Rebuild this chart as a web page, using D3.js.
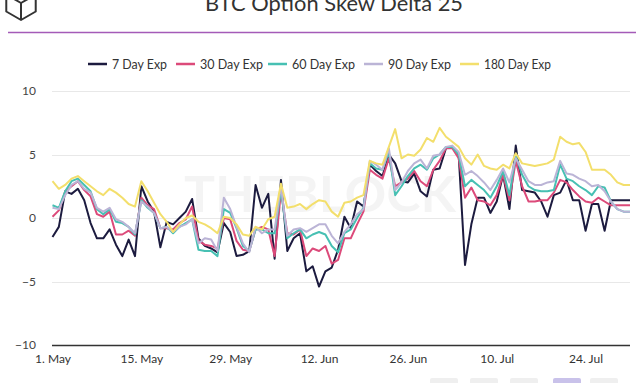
<!DOCTYPE html>
<html>
<head>
<meta charset="utf-8">
<script src="https://cdn.jsdelivr.net/npm/d3@7"></script>
<style>
  html, body { margin: 0; padding: 0; background: #fff; }
  svg { display: block; }
</style>
</head>
<body>
<div id="chart"></div>
<script>
// ---- data ----
const startDate = "2019-05-01";
const seriesNames = ["7 Day Exp", "30 Day Exp", "60 Day Exp", "90 Day Exp", "180 Day Exp"];
const seriesColors = ["#1c1b3f", "#dc4a7a", "#47c0b3", "#bbb4d6", "#f3df6c"];
const tickLabels = ["2019-05-01", "2019-05-15", "2019-05-29", "2019-06-12", "2019-06-26", "2019-07-10", "2019-07-24"];
const yTicks = [-10, -5, 0, 5, 10];

const exp7 = [-1.5,-0.7,2.1,1.9,2.3,1.4,-0.4,-1.6,-1.6,-0.9,
  -2.1,-3.0,-1.7,-3.0,2.5,1.3,0.5,-2.3,-0.3,-0.5,
  0.0,0.5,1.5,-1.6,-2.2,-2.4,-2.7,-0.4,-1.1,-3.0,
  -2.9,-2.6,2.6,0.8,1.9,-3.2,3.0,-2.6,-1.6,-1.2,
  -4.2,-3.8,-5.4,-4.2,-3.9,-2.5,0.1,-0.8,1.3,0.9,
  4.2,3.7,3.3,5.0,4.3,2.9,2.8,3.5,2.1,1.7,
  3.8,3.9,5.5,5.6,5.0,-3.7,-0.5,1.6,1.6,0.4,
  1.3,3.4,0.7,5.7,2.2,2.1,2.0,1.3,0.1,1.8,
  2.0,3.0,1.4,1.4,-1.0,1.1,1.1,-1.0,1.4,1.4,
  1.4,1.4];
const exp30 = [0.1,0.6,2.1,2.5,2.9,2.2,1.7,0.3,0.1,0.5,
  -1.3,-1.3,-1.0,-1.4,1.6,1.0,0.7,-0.8,-0.8,-0.9,
  -0.4,-0.1,0.9,-1.8,-2.1,-2.2,-2.4,0.0,-0.1,-1.8,
  -2.5,-2.6,-0.9,-0.7,-0.9,-3.0,2.1,-1.2,-1.3,-0.9,
  -3.0,-2.4,-2.6,-2.2,-3.6,-3.3,-1.6,-1.6,-0.5,0.5,
  3.8,3.4,3.1,4.7,2.5,2.8,3.1,3.7,2.9,2.5,
  3.8,4.5,5.5,5.5,4.7,1.6,2.4,1.4,1.3,1.0,
  1.8,3.4,1.4,4.5,2.5,1.3,1.3,1.4,1.4,2.0,
  3.0,2.8,2.2,1.7,1.3,1.2,1.6,1.3,1.0,1.0,
  1.0,1.0];
const exp60 = [1.0,0.8,2.1,2.9,3.1,2.6,2.1,0.7,0.3,0.7,
  -0.3,-0.4,-0.7,-1.3,1.4,0.8,0.4,-0.8,-0.7,-1.2,
  -0.7,-0.4,-0.1,-2.5,-2.6,-2.6,-3.0,0.7,0.4,-0.8,
  -2.2,-2.6,-0.9,-0.9,-1.2,-1.2,2.2,-1.6,-1.2,-0.9,
  -1.6,-1.3,-1.1,-1.3,-2.2,-2.7,-1.2,-0.9,0.0,0.8,
  4.3,3.9,3.8,5.2,1.8,2.5,3.3,3.9,4.2,3.8,
  4.7,5.0,5.6,5.6,5.0,2.5,3.0,2.6,2.2,1.6,
  2.5,3.7,1.8,4.9,3.4,2.5,2.2,2.1,2.1,2.2,
  4.2,3.1,2.9,2.5,2.2,1.8,2.5,2.4,1.3,0.7,
  0.5,0.5];
const exp90 = [0.8,0.7,1.8,2.6,2.9,2.3,2.0,0.8,0.5,0.8,
  -0.1,-0.3,-0.7,-1.2,1.3,0.9,0.4,-0.8,-0.7,-1.1,
  -0.7,-0.5,-0.1,-2.0,-1.6,-1.7,-2.6,1.6,0.7,-0.7,
  -2.0,-2.7,-0.7,-1.2,-0.9,-0.9,2.5,-1.4,-0.9,-0.8,
  -1.1,-0.8,-0.5,-0.5,-1.4,-2.0,-1.1,-0.5,0.3,0.7,
  4.5,4.2,3.8,5.5,2.2,2.8,3.7,4.3,4.6,3.9,
  4.9,5.0,5.6,5.7,5.2,3.4,3.7,3.3,2.8,2.2,
  3.0,3.9,2.8,4.7,3.8,2.9,2.6,2.6,2.8,2.9,
  4.5,3.5,3.4,3.1,2.9,2.5,2.6,2.1,1.3,0.7,
  0.5,0.5];
const exp180 = [2.9,2.3,2.6,3.1,3.3,2.9,2.5,2.1,1.8,2.3,
  2.0,1.6,1.1,0.9,2.9,2.1,1.2,0.3,-0.3,-1.1,
  -0.5,0.0,0.2,-0.3,-0.5,-0.8,-1.2,0.1,0.0,-0.5,
  -1.3,-1.4,-0.7,-0.9,-0.1,0.1,2.7,0.8,0.9,1.1,
  0.7,1.1,1.4,1.3,0.5,0.1,1.2,1.3,1.6,1.8,
  4.5,4.3,4.2,5.6,7.0,4.7,5.0,4.9,5.4,6.3,
  6.0,7.1,6.4,6.0,5.6,4.7,4.2,5.0,4.1,3.9,
  3.8,4.2,3.9,5.1,4.3,4.2,4.1,4.2,4.3,4.6,
  6.4,6.0,5.8,5.9,5.2,3.8,3.8,3.8,3.4,2.8,
  2.6,2.6];

const seriesValues = [exp7, exp30, exp60, exp90, exp180];

// ---- layout ----
const W = 640, H = 383;
const parse = d3.utcParse("%Y-%m-%d");
const t0 = parse(startDate);
const dates = exp7.map((_, i) => d3.utcDay.offset(t0, i));

const svg = d3.select("#chart").append("svg")
  .attr("width", W).attr("height", H)
  .style("font-family", "Lato, 'Open Sans', sans-serif");

const x = d3.scaleUtc().domain([dates[0], dates[dates.length - 1]]).range([52.5, 630]);
const y = d3.scaleLinear().domain([-10, 10]).range([345, 91]);

// logo (cube outline)
const cx = 21, cy = 3, r = 17;
const hex = d3.range(6).map(k => {
  const a = Math.PI / 6 + k * Math.PI / 3;
  return [cx + r * Math.cos(a), cy + r * Math.sin(a)];
});
svg.append("path")
  .attr("d", "M" + hex.map(p => p.join(",")).join("L") + "Z")
  .attr("fill", "none").attr("stroke", "#333").attr("stroke-width", 2).attr("stroke-linejoin", "round");
svg.append("path")
  .attr("d", `M${cx},${cy}L${cx},${cy + r}M${cx},${cy}L${hex[3][0]},${hex[3][1]}M${cx},${cy}L${hex[5][0]},${hex[5][1]}`)
  .attr("fill", "none").attr("stroke", "#333").attr("stroke-width", 2);

// title
svg.append("text")
  .attr("x", 334).attr("y", 11)
  .attr("text-anchor", "middle")
  .attr("font-size", 22).attr("fill", "#333")
  .attr("textLength", 258).attr("lengthAdjust", "spacingAndGlyphs")
  .text("BTC Option Skew Delta 25");

// purple separator
svg.append("line")
  .attr("x1", 8).attr("x2", 636).attr("y1", 32.5).attr("y2", 32.5)
  .attr("stroke", "#a45bb8").attr("stroke-width", 1.5);

// legend
const legendX = [88, 176, 268, 364, 460];
const legendTextW = [55, 63, 63, 63, 67];
const leg = svg.append("g");
seriesNames.forEach((name, i) => {
  const g = leg.append("g").attr("transform", `translate(${legendX[i]},64)`);
  g.append("line").attr("x1", 0).attr("x2", 19).attr("y1", 0).attr("y2", 0)
    .attr("stroke", seriesColors[i]).attr("stroke-width", 2.5);
  g.append("text").attr("x", 24).attr("y", 4.5)
    .attr("font-size", 13).attr("fill", "#333")
    .attr("textLength", legendTextW[i]).attr("lengthAdjust", "spacingAndGlyphs")
    .text(name);
});

// watermark
svg.append("text")
  .attr("x", 320).attr("y", 212)
  .attr("text-anchor", "middle")
  .attr("font-size", 50).attr("font-weight", "bold")
  .attr("fill", "#000").attr("fill-opacity", 0.045)
  .attr("textLength", 272).attr("lengthAdjust", "spacingAndGlyphs")
  .text("THEBLOCK");

// gridlines
svg.append("g").selectAll("line").data(yTicks.filter(v => v !== -10)).join("line")
  .attr("x1", 52).attr("x2", 630)
  .attr("y1", d => Math.round(y(d)) + 0.5).attr("y2", d => Math.round(y(d)) + 0.5)
  .attr("stroke", "#e8e8e8").attr("stroke-width", 1);

// y axis labels
const yAxis = d3.axisLeft(y).tickValues(yTicks).tickSize(0).tickPadding(0).tickFormat(d3.format("d"));
const gy = svg.append("g").attr("transform", "translate(36,0)").call(yAxis);
gy.select(".domain").remove();
gy.selectAll("text").attr("font-size", 12).attr("fill", "#444").attr("font-family", "Lato, sans-serif");

// x axis
const xAxis = d3.axisBottom(x)
  .tickValues(tickLabels.map(parse))
  .tickSize(0).tickPadding(9)
  .tickFormat(d3.utcFormat("%-d. %b"));
const gx = svg.append("g").attr("transform", "translate(0,345)").call(xAxis);
gx.select(".domain").attr("stroke", "#333").attr("stroke-width", 1.5).attr("d", "M52,0.5H630");
gx.selectAll("text").attr("font-size", 12).attr("fill", "#333").attr("font-family", "Lato, sans-serif");

// lines
const line = d3.line().x((d, i) => x(dates[i])).y(d => y(d)).curve(d3.curveLinear);
const lines = svg.append("g");
seriesValues.forEach((vals, i) => {
  lines.append("path")
    .datum(vals)
    .attr("fill", "none")
    .attr("stroke", seriesColors[i])
    .attr("stroke-width", 2)
    .attr("stroke-linejoin", "round")
    .attr("d", line);
});

// bottom cut-off controls
const btnX = [430, 470, 510, 553, 590];
svg.append("g").selectAll("rect").data(btnX).join("rect")
  .attr("x", d => d).attr("y", 378).attr("width", 28).attr("height", 12).attr("rx", 2)
  .attr("fill", (d, i) => i === 3 ? "#c9c2ea" : "#efefef");
</script>
</body>
</html>
